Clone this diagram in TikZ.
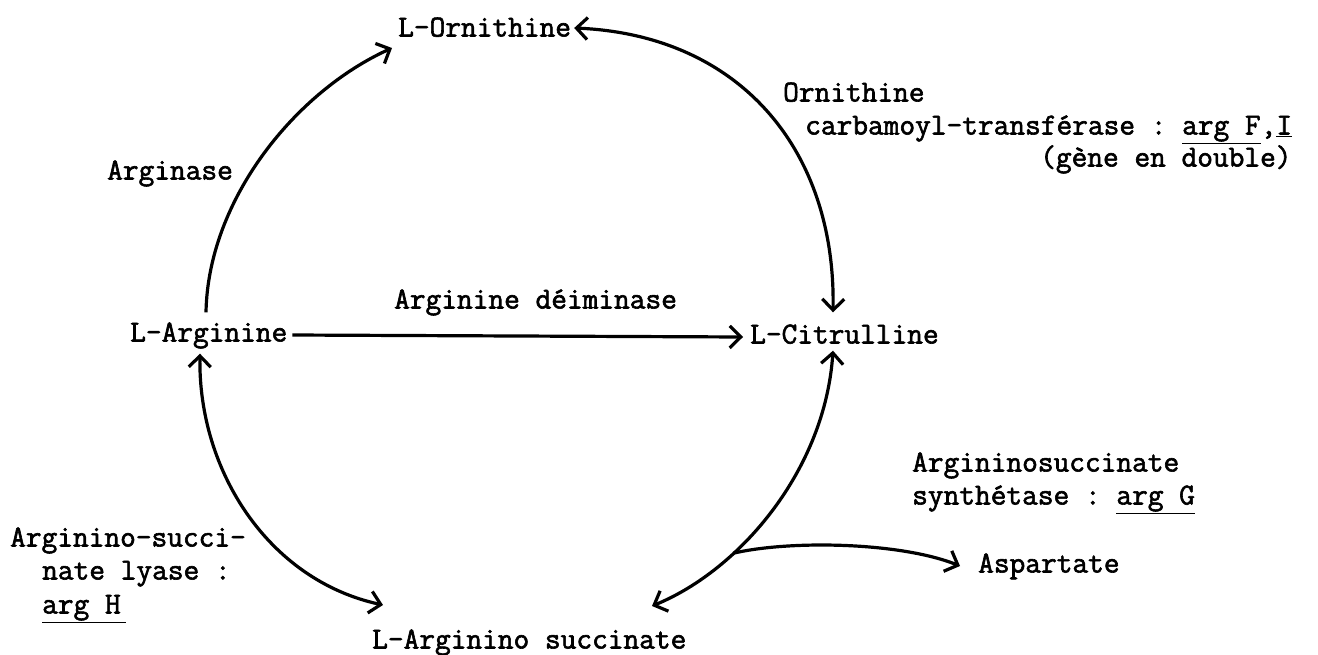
\documentclass[tikz,border=0pt]{standalone}
\usepackage{fontspec}
\setmonofont[FakeBold=2]{Latin Modern Mono}
\usetikzlibrary{arrows.meta}
\begin{document}
\begin{tikzpicture}[x=1pt,y=-1pt,
  lbl/.style={anchor=west,inner sep=0pt,text height=19pt,text depth=6pt,
              font=\fontsize{30.5}{33}\selectfont\ttfamily},
  rxn/.style={line width=3.2pt},
  >={Straight Barb[length=11pt,width=22pt,line width=3.2pt]}]
\useasboundingbox (0,0) rectangle (1318,654);

% metabolites
\node[lbl] (orn) at (398,30)  {L-Ornithine};
\node[lbl] (arg) at (130,335) {L-Arginine};
\node[lbl] (cit) at (750,337) {L-Citrulline};
\node[lbl] (ags) at (372,642) {L-Arginino succinate};
\node[lbl] (asp) at (978,566) {Aspartate};

% enzymes
\node[lbl] (e-arginase) at (107,173) {Arginase};
\node[lbl] (e-deim) at (394,302) {Arginine déiminase};
\node[lbl] (e-otc1) at (783,95)  {Ornithine};
\node[lbl] (e-otc2) at (805,128) {carbamoyl-transférase : \underline{arg F},\underline{I}};
\node[lbl] (e-otc3) at (1040,160) {(gène en double)};
\node[lbl] (e-ass1) at (912,465) {Argininosuccinate};
\node[lbl] (e-ass2) at (912,498) {synthétase : \underline{arg G}};
\node[lbl] (e-asl1) at (10,540) {Arginino-succi-};
\node[lbl] (e-asl2) at (42,573) {nate lyase :};
\node[lbl] (e-asl3) at (42,607) {\underline{arg H\,}};

% reactions
\draw[rxn,->] ([shift={(76,-10)}]arg.north west)
   .. controls (208,200) and (295,92) .. ([shift={(-6,18)}]orn.west);
\draw[rxn,<->] ([shift={(3,-2)}]orn.east)
   .. controls (740,35) and (836,150) .. ([shift={(83,-12)}]cit.north west);
\draw[rxn,->] ([xshift=5pt]arg.east) -- ([xshift=-7pt]cit.west);
\draw[rxn,<->] ([shift={(70,6)}]arg.south west)
   .. controls (198,470) and (268,580) .. ([shift={(11,-37)}]ags.west);
\draw[rxn,<->] ([shift={(83,1)}]cit.south west)
   .. controls (825,470) and (740,570) ..
   coordinate[pos=0.68] (junc) ([shift={(280,-36)}]ags.west);
\draw[rxn,->] (junc) .. controls (790,540) and (900,542) .. ([xshift=-18pt]asp.west);
\end{tikzpicture}
\end{document}
